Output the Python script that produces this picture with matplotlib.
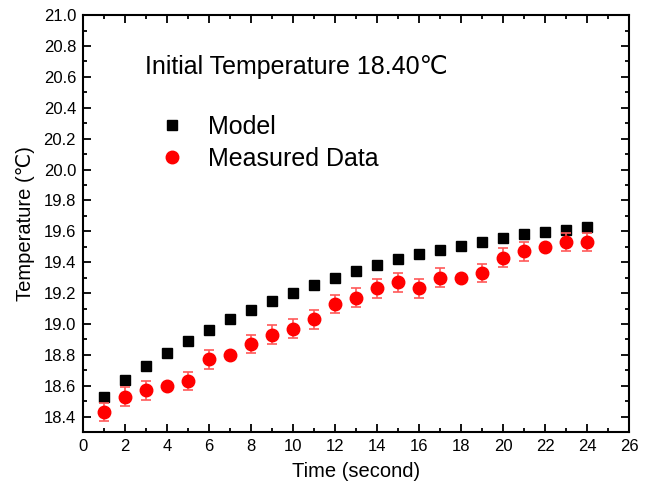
import matplotlib

matplotlib.use("Agg")
import matplotlib.pyplot as plt
from matplotlib.lines import Line2D
from matplotlib.ticker import FormatStrFormatter, MultipleLocator

time_s = list(range(1, 25))
model = [18.53, 18.635, 18.73, 18.81, 18.89, 18.96, 19.03, 19.09, 19.15, 19.20,
         19.255, 19.30, 19.34, 19.38, 19.42, 19.45, 19.48, 19.505, 19.53, 19.555,
         19.585, 19.595, 19.61, 19.625]
measured = [18.43, 18.53, 18.57, 18.60, 18.63, 18.77, 18.80, 18.87, 18.93, 18.97,
            19.03, 19.13, 19.17, 19.23, 19.27, 19.23, 19.30, 19.30, 19.33, 19.43,
            19.47, 19.50, 19.53, 19.53]
measured_err = [0.06, 0.06, 0.06, 0.01, 0.06, 0.06, 0.01, 0.06, 0.06, 0.06,
                0.06, 0.06, 0.06, 0.06, 0.06, 0.06, 0.06, 0.01, 0.06, 0.06,
                0.06, 0.01, 0.06, 0.06]

plt.rcParams["font.family"] = ["Liberation Sans", "DejaVu Sans"]

fig = plt.figure(figsize=(6.61, 4.87), dpi=100)
ax = fig.add_axes([0.1256, 0.1129, 0.826, 0.856])

ax.plot(time_s, model, "s", color="black", markersize=7.5, zorder=3)
ax.errorbar(time_s, measured, yerr=measured_err, fmt="o", color="red",
            markersize=9, ecolor=(1.0, 0.35, 0.35), elinewidth=1.2,
            capsize=3.5, capthick=1.2, zorder=4)

ax.set_xlim(0, 26)
ax.set_ylim(18.3, 21.0)
ax.xaxis.set_major_locator(MultipleLocator(2))
ax.xaxis.set_minor_locator(MultipleLocator(1))
ax.yaxis.set_major_locator(MultipleLocator(0.2))
ax.yaxis.set_minor_locator(MultipleLocator(0.1))
ax.yaxis.set_major_formatter(FormatStrFormatter("%.1f"))
ax.tick_params(which="both", direction="in", top=True, right=True, width=1.3,
               labelsize=12)
ax.tick_params(which="major", length=6, pad=5)
ax.tick_params(which="minor", length=3)
for spine in ax.spines.values():
    spine.set_linewidth(1.5)

ax.set_xlabel("Time (second)", fontsize=14.5, labelpad=6)
ax.set_ylabel("Temperature (℃)", fontsize=14.5, labelpad=6)

ax.text(0.1136, 0.875, "Initial Temperature 18.40℃", transform=ax.transAxes,
        fontsize=18, va="center")

handles = [
    Line2D([], [], ls="none", marker="s", color="black", markersize=7.5),
    Line2D([], [], ls="none", marker="o", color="red", markersize=9),
]
ax.legend(handles, ["Model", "Measured Data"], loc="upper left",
          bbox_to_anchor=(0.1355, 0.760), frameon=False, fontsize=18,
          handletextpad=0.85, labelspacing=0.3, handlelength=1.2,
          borderaxespad=0, borderpad=0)

fig.savefig("out.png", dpi=100)
